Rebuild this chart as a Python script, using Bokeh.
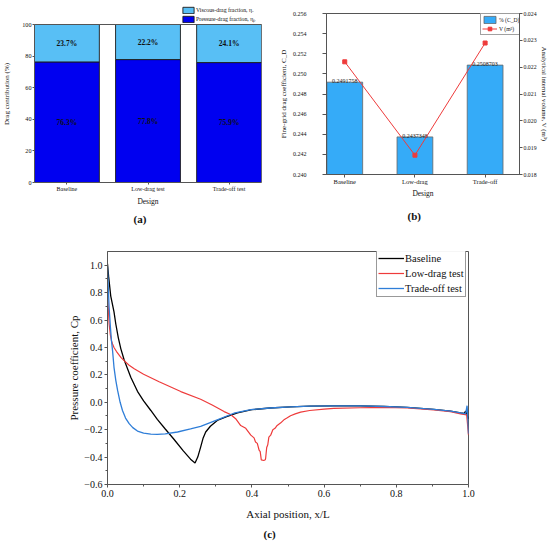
from bokeh.plotting import figure
from bokeh.models import (Range1d, LinearAxis, FixedTicker, CustomJSTickFormatter,
                          Legend, LegendItem, ColumnDataSource, Title)
from bokeh.layouts import column, row
from bokeh.embed import file_html
from bokeh.resources import INLINE
from bokeh.core.properties import value

# ---------------- data ----------------
designs_a = ["Baseline", "Low-drag test", "Trade-off test"]
pressure_pct = [76.3, 77.8, 75.9]
viscous_pct = [23.7, 22.2, 24.1]

designs_b = ["Baseline", "Low-drag", "Trade-off"]
cd_values = [0.2491758, 0.2437348, 0.2508703]
volume_values = [0.0222, 0.01872, 0.0229]

a_yticks = [0, 20, 40, 60, 80, 100]
b_yticks = [0.240, 0.242, 0.244, 0.246, 0.248, 0.250, 0.252, 0.254, 0.256]
b_vticks = [0.018, 0.019, 0.020, 0.021, 0.022, 0.023, 0.024]
c_xticks = [0.0, 0.2, 0.4, 0.6, 0.8, 1.0]
c_xminor = [0.1, 0.3, 0.5, 0.7, 0.9]
c_yticks = [-0.6, -0.4, -0.2, 0.0, 0.2, 0.4, 0.6, 0.8, 1.0]
c_yminor = [-0.5, -0.3, -0.1, 0.1, 0.3, 0.5, 0.7, 0.9]

base_x = [0.000, 0.003, 0.009, 0.018, 0.023, 0.030, 0.037, 0.046, 0.0645, 0.083, 0.100,
          0.120, 0.138, 0.160, 0.184, 0.210, 0.230, 0.2425, 0.250, 0.258, 0.265, 0.272,
          0.285, 0.304, 0.330, 0.360, 0.400, 0.450, 0.507, 0.560, 0.627, 0.700, 0.766,
          0.830, 0.904, 0.950, 0.978, 0.988, 0.992, 0.996, 1.000]
base_cp = [1.01, 0.92, 0.775, 0.66, 0.571, 0.47, 0.39, 0.31, 0.183, 0.08, 0.01,
           -0.06, -0.125, -0.195, -0.27, -0.355, -0.415, -0.443, -0.40, -0.327, -0.26, -0.217,
           -0.175, -0.133, -0.105, -0.078, -0.054, -0.042, -0.033, -0.028, -0.026, -0.027, -0.031,
           -0.038, -0.052, -0.064, -0.078, -0.082, -0.065, -0.09, -0.12]

low_x = [0.000, 0.002, 0.0045, 0.008, 0.011, 0.014, 0.018, 0.025, 0.037, 0.046, 0.060,
         0.074, 0.100, 0.143, 0.203, 0.258, 0.290, 0.323, 0.341, 0.355, 0.369, 0.383,
         0.397, 0.406, 0.410, 0.415, 0.420, 0.423, 0.426, 0.433, 0.437, 0.438, 0.441,
         0.444, 0.447, 0.452, 0.458, 0.464, 0.470, 0.480, 0.490, 0.498, 0.507, 0.520,
         0.535, 0.560, 0.600, 0.627, 0.700, 0.766, 0.830, 0.904, 0.950, 0.978, 0.995, 1.000]
low_cp = [0.78, 0.70, 0.571, 0.49, 0.449, 0.425, 0.40, 0.37, 0.328, 0.304, 0.27,
          0.244, 0.205, 0.150, 0.078, 0.022, -0.02, -0.068, -0.089, -0.12, -0.17, -0.19,
          -0.24, -0.26, -0.29, -0.30, -0.35, -0.36, -0.42, -0.425, -0.42, -0.41, -0.33,
          -0.31, -0.254, -0.24, -0.20, -0.19, -0.169, -0.15, -0.125, -0.113, -0.098, -0.085,
          -0.072, -0.060, -0.050, -0.045, -0.040, -0.038, -0.042, -0.055, -0.068, -0.085, -0.092, -0.24]

trade_x = [0.000, 0.002, 0.0045, 0.008, 0.011, 0.014, 0.018, 0.023, 0.028, 0.035, 0.0415,
           0.050, 0.060, 0.070, 0.083, 0.100, 0.120, 0.138, 0.160, 0.194, 0.230, 0.258,
           0.304, 0.350, 0.397, 0.450, 0.507, 0.560, 0.627, 0.700, 0.766, 0.830, 0.904,
           0.950, 0.978, 0.992, 0.996, 0.998, 1.000]
trade_cp = [0.99, 0.85, 0.69, 0.55, 0.449, 0.377, 0.255, 0.16, 0.086, 0.00, -0.06,
            -0.115, -0.156, -0.185, -0.21, -0.225, -0.232, -0.234, -0.23, -0.217, -0.195, -0.176,
            -0.128, -0.080, -0.054, -0.042, -0.033, -0.028, -0.026, -0.027, -0.031, -0.038, -0.052,
            -0.064, -0.078, -0.085, -0.025, -0.10, -0.23]

# ---------------- style ----------------
FONT = "Liberation Serif"
AX = "#555555"
TXT = "#111111"
DARK = "#0000F0"
LIGHT = "#58BFF5"
BAR_B = "#35ABF8"
RED = "#EE3B3B"
BLUE = "#2F7ED8"


def style_axis(ax, tick_size, label_size, tick_out=3):
    ax.axis_line_color = AX
    ax.major_tick_line_color = AX
    ax.minor_tick_line_color = AX
    ax.major_tick_in = 0
    ax.major_tick_out = tick_out
    ax.minor_tick_in = 0
    ax.minor_tick_out = 2
    ax.major_label_text_font = FONT
    ax.major_label_text_font_size = tick_size
    ax.major_label_text_color = TXT
    ax.axis_label_text_font = FONT
    ax.axis_label_text_font_size = label_size
    ax.axis_label_text_font_style = "normal"
    ax.axis_label_text_color = TXT


def base_fig(**kw):
    p = figure(output_backend="svg", toolbar_location=None, **kw)
    p.xgrid.visible = False
    p.ygrid.visible = False
    p.outline_line_color = AX
    p.outline_line_width = 1
    p.background_fill_color = "white"
    p.border_fill_color = "white"
    return p


ROW1_H = 230

# ---------------- panel (a) ----------------
# the frame extends above 100 % to leave room for the legend; the visible box is drawn at 100 %
A_X0, A_X1 = -0.4, 2.4
A_Y0, A_Y1 = a_yticks[0], a_yticks[-1]
A_TOP = A_Y1 + (A_Y1 - A_Y0) * 19 / 158
pos_a = list(range(len(designs_a)))
src_a = ColumnDataSource(dict(
    x=pos_a, pressure=pressure_pct, viscous=viscous_pct,
    p_mid=[v / 2 for v in pressure_pct],
    v_mid=[p + v / 2 for p, v in zip(pressure_pct, viscous_pct)],
    p_lab=[f"{v:.1f}%" for v in pressure_pct],
    v_lab=[f"{v:.1f}%" for v in viscous_pct],
))
pa = base_fig(width=275, height=ROW1_H, x_range=Range1d(A_X0, A_X1), y_range=Range1d(A_Y0, A_TOP),
              min_border_left=32, min_border_right=14, min_border_top=5,
              min_border_bottom=ROW1_H - 5 - 177)
pa.outline_line_color = None
rs = pa.vbar_stack(["pressure", "viscous"], x="x", width=0.8, source=src_a,
                   fill_color=[DARK, LIGHT], line_color="#1a1a1a", line_width=0.9)
# box lines: top at 100 % and right edge
pa.segment(x0=[A_X0, A_X1], y0=[A_Y1, A_Y0], x1=[A_X1, A_X1], y1=[A_Y1, A_Y1],
           line_color=AX, line_width=1)
for col, lab in (("p_mid", "p_lab"), ("v_mid", "v_lab")):
    pa.text(x="x", y=col, text=lab, source=src_a, text_align="center", text_baseline="middle",
            text_font=value(FONT), text_font_style="bold", text_font_size="7.5px", text_color="#111")
pa.xaxis.ticker = FixedTicker(ticks=pos_a)
pa.xaxis.major_label_overrides = {i: d for i, d in enumerate(designs_a)}
pa.xaxis.axis_label = "Design"
pa.yaxis.ticker = FixedTicker(ticks=a_yticks, minor_ticks=[])
pa.yaxis.bounds = (A_Y0, A_Y1)
pa.yaxis.axis_label = "Drag contribution (%)"
style_axis(pa.xaxis[0], "6px", "7.5px", tick_out=2)
style_axis(pa.yaxis[0], "6.2px", "7px", tick_out=2)
pa.xaxis.major_label_standoff = 1
pa.xaxis.axis_label_standoff = 2
pa.yaxis.major_label_standoff = 1
pa.yaxis.axis_label_standoff = 8
leg_a = Legend(items=[LegendItem(label="Viscous-drag fraction, ηᵥ", renderers=[rs[1]]),
                      LegendItem(label="Pressure-drag fraction, ηₚ", renderers=[rs[0]])],
               location=(147, 159), border_line_color=None, background_fill_alpha=0,
               padding=0, margin=0, spacing=1, glyph_width=14, glyph_height=8, label_height=8,
               label_standoff=1, label_text_font=FONT, label_text_font_size="5.8px",
               label_text_color=TXT)
pa.add_layout(leg_a)
pa.add_layout(Title(text="(a)", align="left", offset=99, standoff=5, text_font=FONT,
                    text_font_size="11px", text_font_style="bold", text_color=TXT), "below")

# ---------------- panel (b) ----------------
pos_b = list(range(len(designs_b)))
src_b = ColumnDataSource(dict(x=pos_b, cd=cd_values, vol=volume_values,
                              cd_lab=[f"{v:.7f}" for v in cd_values]))
pb = base_fig(width=275, height=ROW1_H, x_range=Range1d(-0.26, 2.49), y_range=Range1d(0.240, 0.256),
              min_border_left=51, min_border_right=30, min_border_top=13,
              min_border_bottom=ROW1_H - 13 - 161)
pb.extra_y_ranges = {"vol": Range1d(0.018, 0.024)}
bars = pb.vbar(x="x", top="cd", bottom=0.240, width=0.51, source=src_b,
               fill_color=BAR_B, line_color="#666666", line_width=0.8)
pb.text(x="x", y="cd", text="cd_lab", source=src_b, text_align="center", text_baseline="bottom",
        y_offset=1, text_font=value(FONT), text_font_size="6px", text_color="#222")
ln = pb.line(x="x", y="vol", source=src_b, y_range_name="vol", line_color=RED, line_width=1)
mk = pb.scatter(x="x", y="vol", source=src_b, y_range_name="vol", marker="square", size=4,
                fill_color=RED, line_color=RED)
pb.xaxis.ticker = FixedTicker(ticks=pos_b)
pb.xaxis.major_label_overrides = {i: d for i, d in enumerate(designs_b)}
pb.xaxis.axis_label = "Design"
pb.yaxis.ticker = FixedTicker(ticks=b_yticks, minor_ticks=[])
pb.yaxis.formatter = CustomJSTickFormatter(code="return tick.toFixed(3);")
pb.yaxis.axis_label = "Fine-grid drag coefficient, C_D"
style_axis(pb.xaxis[0], "6.5px", "7.5px")
style_axis(pb.yaxis[0], "6px", "7px", tick_out=4)
pb.xaxis.major_label_standoff = 0
pb.xaxis.axis_label_standoff = 1
pb.yaxis.major_label_standoff = 16
pb.yaxis.axis_label_standoff = 2
rax = LinearAxis(y_range_name="vol", axis_label="Analytical internal volume, V (m³)",
                 ticker=FixedTicker(ticks=b_vticks, minor_ticks=[]),
                 formatter=CustomJSTickFormatter(code="return tick.toFixed(3);"))
style_axis(rax, "5.8px", "6.8px", tick_out=3)
rax.major_label_standoff = 1
rax.axis_label_standoff = 1
pb.add_layout(rax, "right")
leg_b = Legend(items=[LegendItem(label="% (C_D)", renderers=[bars]),
                      LegendItem(label="V (m³)", renderers=[ln, mk])],
               location=(154, 139), border_line_color="#444444", border_line_width=0.8,
               background_fill_color="white", padding=1, margin=0, spacing=0,
               glyph_width=15, glyph_height=9, label_height=9, label_standoff=2,
               label_text_font=FONT, label_text_font_size="5.6px", label_text_color=TXT)
pb.add_layout(leg_b)
pb.add_layout(Title(text="(b)", align="left", offset=81, standoff=14, text_font=FONT,
                    text_font_size="11px", text_font_style="bold", text_color=TXT), "below")

# ---------------- panel (c) ----------------
PC_H = 545 - ROW1_H
pc = base_fig(width=550, height=PC_H, x_range=Range1d(0, 1.0), y_range=Range1d(-0.6, 1.1),
              min_border_left=107, min_border_right=82, min_border_top=251 - ROW1_H,
              min_border_bottom=PC_H - (251 - ROW1_H) - 233)
l1 = pc.line(base_x, base_cp, line_color="#000000", line_width=1.3)
l2 = pc.line(low_x, low_cp, line_color=RED, line_width=1.2)
l3 = pc.line(trade_x, trade_cp, line_color=BLUE, line_width=1.3)
pc.xaxis.ticker = FixedTicker(ticks=c_xticks, minor_ticks=c_xminor)
pc.yaxis.ticker = FixedTicker(ticks=c_yticks, minor_ticks=c_yminor)
fmt = "return tick.toFixed(1).replace('-', '\u2212');"
pc.xaxis.formatter = CustomJSTickFormatter(code=fmt)
pc.yaxis.formatter = CustomJSTickFormatter(code=fmt)
pc.xaxis.axis_label = "Axial position, x/L"
pc.yaxis.axis_label = "Pressure coefficient, Cp"
style_axis(pc.xaxis[0], "10px", "11px")
style_axis(pc.yaxis[0], "10px", "11px")
pc.xaxis.major_label_standoff = 2
pc.xaxis.axis_label_standoff = 8
pc.yaxis.major_label_standoff = 2
pc.yaxis.axis_label_standoff = 1
leg_c = Legend(items=[LegendItem(label="Baseline", renderers=[l1]),
                      LegendItem(label="Low-drag test", renderers=[l2]),
                      LegendItem(label="Trade-off test", renderers=[l3])],
               location=(269, 187), border_line_color="#333333", border_line_width=1,
               background_fill_color="white", padding=1, margin=0, spacing=1,
               glyph_width=26, glyph_height=14, label_height=14, label_standoff=1,
               label_text_font=FONT, label_text_font_size="10.5px", label_text_color=TXT)
pc.add_layout(leg_c)
pc.add_layout(Title(text="(c)", align="left", offset=156, standoff=6, text_font=FONT,
                    text_font_size="11px", text_font_style="bold", text_color=TXT), "below")

layout = column(row(column(pa), column(pb)), pc)
open("out.html", "w").write(file_html(layout, INLINE))
